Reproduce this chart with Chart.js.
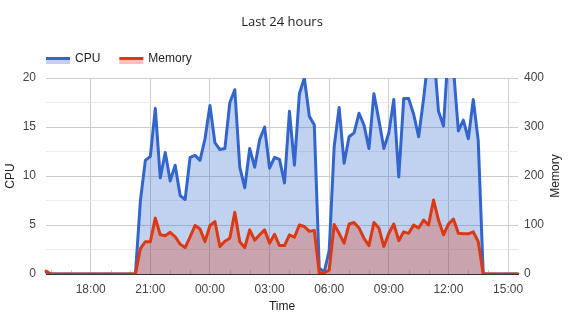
<!DOCTYPE html>
<html>
<head>
<meta charset="utf-8">
<script src="https://cdn.jsdelivr.net/npm/chart.js@4/dist/chart.umd.min.js"></script>
<style>
  html, body { margin: 0; padding: 0; background: #fff; }
  #wrap { width: 574px; height: 314px; position: relative; }
</style>
</head>
<body>
<div id="wrap"><canvas id="load-chart" width="574" height="314"></canvas></div>
<script>
// 15 minute samples, last 24 hours
var times = [
  "15:45",
  "16:00","16:15","16:30","16:45","17:00","17:15","17:30","17:45",
  "18:00","18:15","18:30","18:45","19:00","19:15","19:30","19:45",
  "20:00","20:15","20:30","20:45","21:00","21:15","21:30","21:45",
  "22:00","22:15","22:30","22:45","23:00","23:15","23:30","23:45",
  "00:00","00:15","00:30","00:45","01:00","01:15","01:30","01:45",
  "02:00","02:15","02:30","02:45","03:00","03:15","03:30","03:45",
  "04:00","04:15","04:30","04:45","05:00","05:15","05:30","05:45",
  "06:00","06:15","06:30","06:45","07:00","07:15","07:30","07:45",
  "08:00","08:15","08:30","08:45","09:00","09:15","09:30","09:45",
  "10:00","10:15","10:30","10:45","11:00","11:15","11:30","11:45",
  "12:00","12:15","12:30","12:45","13:00","13:15","13:30","13:45",
  "14:00","14:15","14:30","14:45","15:00","15:15","15:30"
];
var tickLabels = ["18:00","21:00","00:00","03:00","06:00","09:00","12:00","15:00"];

var cpuData = [
  0.2,
  0,0,0,0,0,0,0,0, 0,0,0,0,0,0,0,0, 0,0,
  7.5,11.6,12.0,16.9,9.8,12.4,9.5,11.1,8.0,7.6,
  11.9,12.1,11.6,13.8,17.2,13.4,12.7,12.8,17.5,18.8,
  10.9,8.8,12.8,10.9,13.7,15.0,10.8,11.9,11.7,9.3,
  16.6,11.1,18.4,20.0,16.1,15.2,0.6,0.2,2.4,13.0,
  17.0,11.3,14.0,14.4,16.4,15.2,12.8,18.4,15.7,12.8,
  14.4,17.8,9.9,17.9,17.9,16.3,14.0,17.9,22.4,23.0,
  16.6,15.1,23.0,21.0,14.6,15.7,13.8,17.8,13.6,
  0,0,0,0,0,0,0,0
];
var memData = [
  6,
  0,0,0,0,0,0,0,0, 0,0,0,0,0,0,0,0, 0,0,
  52,66,66,114,80,78,85,76,61,54,
  76,99,92,66,99,107,56,67,73,126,
  66,54,90,69,80,90,63,81,58,58,
  80,75,100,97,87,89,2,2,8,101,
  83,63,102,105,94,73,58,105,94,56,
  83,102,68,86,83,100,94,110,100,151,
  110,80,102,112,83,82,82,86,66,
  0,0,0,0,0,0,0,0
];

var cpuTicks = [0, 5, 10, 15, 20];
var memTicks = [0, 100, 200, 300, 400];

var blue = '#3366cc', blueFill = 'rgba(51,102,204,0.3)';
var red = '#dc3912', redFill = 'rgba(220,57,18,0.3)';
var fontFamily = 'Arial, "Liberation Sans", sans-serif';

// legend, right axis title, hourly minor ticks
const extras = {
  id: 'extras',
  beforeDatasetsDraw(chart) {
    const ctx = chart.ctx, area = chart.chartArea, x = chart.scales.x;
    ctx.save();
    ctx.strokeStyle = '#cccccc';
    ctx.lineWidth = 1;
    times.forEach(function (t, i) {
      if (t.slice(3) === '00' && tickLabels.indexOf(t) < 0) {
        const px = Math.round(x.getPixelForValue(i)) + 0.5;
        ctx.beginPath();
        ctx.moveTo(px, area.bottom);
        ctx.lineTo(px, area.bottom - 4);
        ctx.stroke();
      }
    });
    ctx.restore();
  },
  afterDraw(chart) {
    const ctx = chart.ctx, area = chart.chartArea;
    ctx.save();
    ctx.font = '12px ' + fontFamily;
    ctx.textBaseline = 'middle';
    ctx.fillStyle = '#222';
    var lx = area.left;
    chart.data.datasets.forEach(function (ds) {
      ctx.fillStyle = ds.borderColor;
      ctx.fillRect(lx, 57, 24, 3);
      ctx.fillStyle = ds.backgroundColor;
      ctx.fillRect(lx, 60, 24, 4);
      ctx.fillStyle = '#222';
      ctx.textAlign = 'left';
      ctx.fillText(ds.label, lx + 29, 59);
      lx += 29 + ctx.measureText(ds.label).width + 19;
    });
    // right axis title, reading bottom to top
    ctx.translate(556, (area.top + area.bottom) / 2);
    ctx.rotate(-Math.PI / 2);
    ctx.textAlign = 'center';
    ctx.fillText('Memory', 0, 0);
    ctx.restore();
  }
};

const loadChart = new Chart(document.getElementById('load-chart'), {
  type: 'line',
  data: {
    labels: times,
    datasets: [{
      label: 'CPU',
      data: cpuData,
      yAxisID: 'y',
      borderColor: blue,
      backgroundColor: blueFill,
      borderWidth: 3,
      fill: 'origin',
      order: 1
    }, {
      label: 'Memory',
      data: memData,
      yAxisID: 'y1',
      borderColor: red,
      backgroundColor: redFill,
      borderWidth: 3,
      fill: 'origin',
      order: 0
    }]
  },
  options: {
    responsive: false,
    animation: false,
    devicePixelRatio: 1,
    layout: { padding: 0 },
    elements: {
      line: { tension: 0, borderJoinStyle: 'round', borderCapStyle: 'round' },
      point: { radius: 0, hoverRadius: 0 }
    },
    plugins: {
      legend: { display: false },
      tooltip: { enabled: false },
      title: {
        display: true,
        text: 'Last 24 hours',
        fullSize: false,
        color: '#222',
        font: { family: '"Open Sans", Arial, sans-serif', size: 13, weight: 'normal', lineHeight: 1.2 },
        padding: { top: 14, bottom: 48.4 }
      }
    },
    scales: {
      x: {
        type: 'category',
        grid: {
          drawTicks: false,
          color: function (c) {
            return tickLabels.indexOf(times[c.tick.value]) >= 0 ? '#cccccc' : 'rgba(0,0,0,0)';
          }
        },
        border: { display: true, color: '#333333', width: 1 },
        ticks: {
          autoSkip: false,
          maxRotation: 0,
          minRotation: 0,
          padding: 8,
          color: '#444',
          font: { family: fontFamily, size: 12 },
          callback: function (v) {
            return tickLabels.indexOf(times[v]) >= 0 ? times[v] : '';
          }
        },
        title: {
          display: true,
          text: 'Time',
          color: '#222',
          font: { family: fontFamily, size: 12 },
          padding: { top: 0, bottom: 0 }
        },
        afterFit: function (s) { s.height = 40; }
      },
      y: {
        position: 'left',
        min: 0,
        max: 20,
        grid: {
          drawTicks: false,
          color: function (c) {
            return c.tick.value % 5 === 0 ? '#cccccc' : '#ebebeb';
          }
        },
        border: { display: false },
        ticks: {
          stepSize: 2.5,
          padding: 10,
          color: '#444',
          font: { family: fontFamily, size: 12 },
          callback: function (v) { return cpuTicks.indexOf(v) >= 0 ? String(v) : ''; }
        },
        title: {
          display: true,
          text: 'CPU',
          color: '#222',
          font: { family: fontFamily, size: 12 },
          padding: { top: 3, bottom: 0 }
        },
        afterFit: function (s) { s.width = 46; }
      },
      y1: {
        position: 'right',
        min: 0,
        max: 400,
        grid: { display: false, drawOnChartArea: false, drawTicks: false },
        border: { display: false },
        ticks: {
          stepSize: 100,
          padding: 6,
          color: '#444',
          font: { family: fontFamily, size: 12 },
          callback: function (v) { return memTicks.indexOf(v) >= 0 ? String(v) : ''; }
        },
        afterFit: function (s) { s.width = 56; }
      }
    }
  },
  plugins: [extras]
});
</script>
</body>
</html>
